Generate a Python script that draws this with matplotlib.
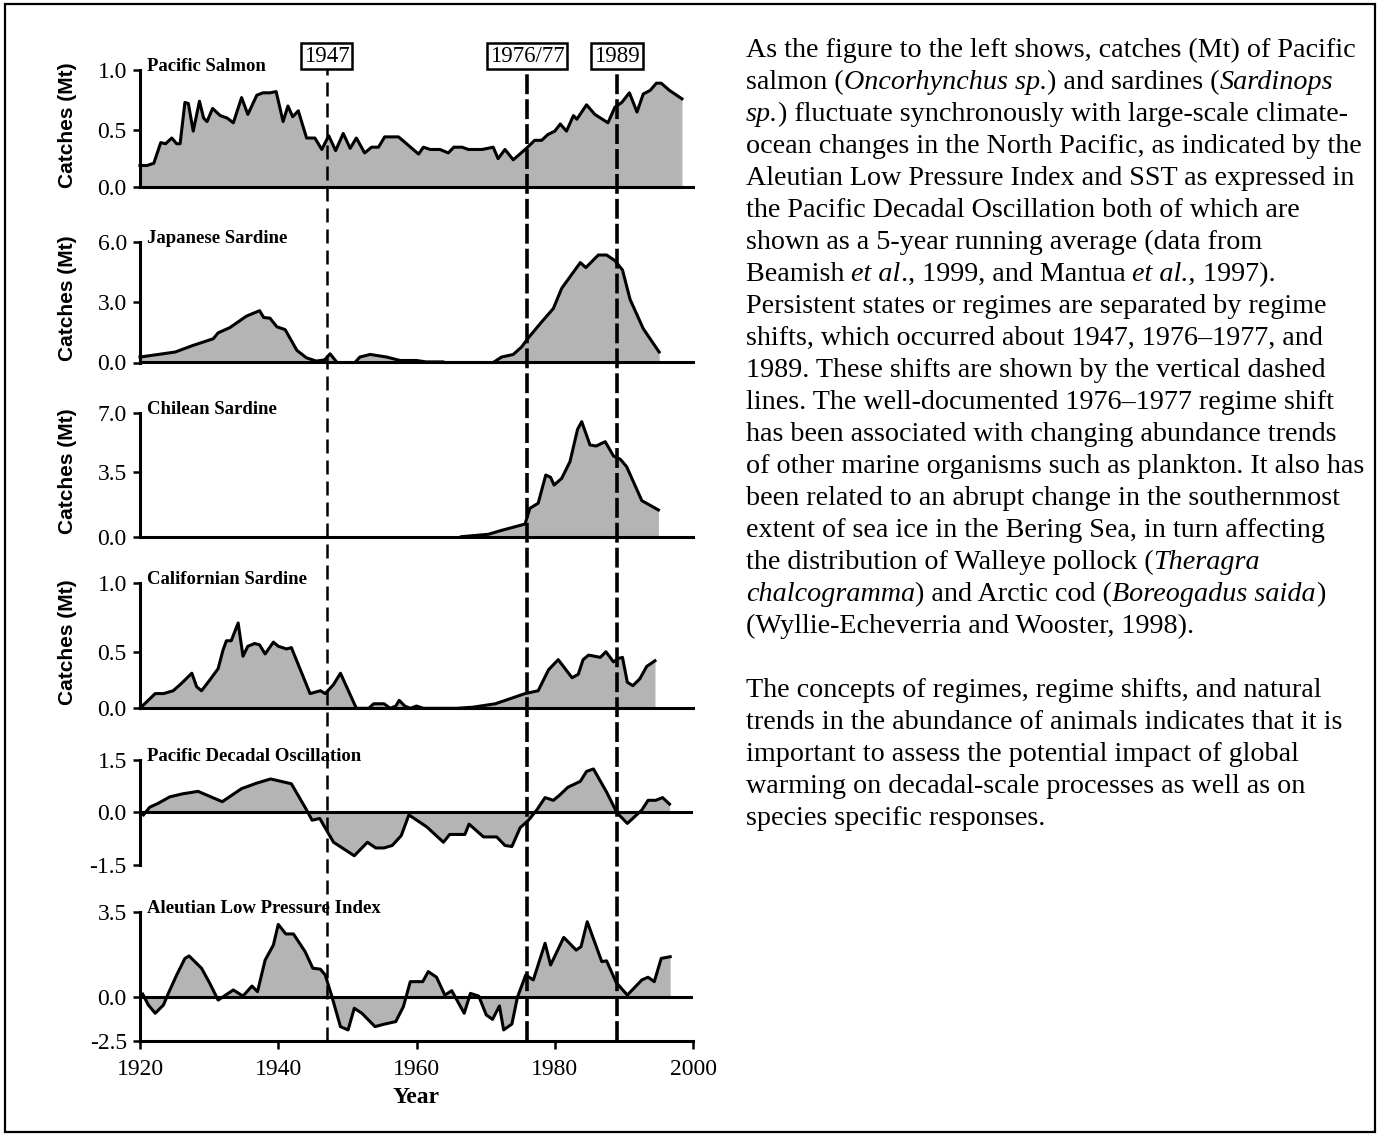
import numpy as np
import matplotlib
matplotlib.use("Agg")
import matplotlib.pyplot as plt
from matplotlib.font_manager import FontProperties
from matplotlib.patches import Rectangle
from matplotlib.transforms import offset_copy

W, H, DPI = 1379, 1135, 100
plt.rcParams['font.family'] = ['Liberation Serif', 'DejaVu Serif']

# ---------------- data ----------------
salmon_year = [1920, 1921, 1922, 1923, 1923.7, 1924.6, 1925.3, 1925.8, 1926.5, 1927,
               1927.7, 1928.6, 1929.2, 1929.7, 1930.5, 1931.6, 1932.6, 1933.5, 1934.7, 1935.6,
               1936.9, 1937.8, 1938.8, 1939.7, 1940.7, 1941.4, 1942.1, 1942.9, 1944.1, 1945.3,
               1946.3, 1947.3, 1948.3, 1949.4, 1950.4, 1951.3, 1952.5, 1953.5, 1954.5, 1955.4,
               1957.4, 1960.3, 1961.0, 1962.0, 1963.4, 1964.6, 1965.4, 1966.6, 1967.5, 1969.5,
               1971.1, 1971.8, 1972.8, 1974.0, 1975.9, 1977.1, 1978.1, 1979.0, 1980.0, 1980.8,
               1981.7, 1982.7, 1983.2, 1984.6, 1985.8, 1987.7, 1988.7, 1989.7, 1990.8, 1991.9,
               1992.8, 1993.8, 1994.7, 1995.4, 1996.6, 1998.4]
salmon_catch = [0.19, 0.19, 0.21, 0.39, 0.38, 0.43, 0.38, 0.38, 0.73, 0.72,
                0.49, 0.74, 0.60, 0.57, 0.68, 0.62, 0.60, 0.56, 0.77, 0.63,
                0.79, 0.81, 0.81, 0.82, 0.57, 0.70, 0.61, 0.66, 0.43, 0.43,
                0.33, 0.45, 0.32, 0.47, 0.34, 0.43, 0.30, 0.35, 0.35, 0.44,
                0.44, 0.29, 0.35, 0.33, 0.33, 0.30, 0.35, 0.35, 0.33, 0.33,
                0.35, 0.25, 0.33, 0.24, 0.34, 0.41, 0.41, 0.46, 0.49, 0.55,
                0.49, 0.62, 0.59, 0.71, 0.63, 0.56, 0.69, 0.73, 0.81, 0.65,
                0.80, 0.83, 0.89, 0.89, 0.83, 0.76]

japan_year = [1920, 1925.1, 1927.7, 1930.6, 1931.3, 1933.0, 1935.4, 1937.3, 1937.9, 1938.8,
              1939.8, 1941.0, 1942.7, 1944.1, 1945.5, 1946.7, 1947.5, 1948.5, 1951.1, 1951.8,
              1953.3, 1955.7, 1957.6, 1960.0, 1961.4, 1963.9, 1964.0, 1971.1, 1972.3, 1974.0,
              1975.2, 1976.2, 1977.9, 1979.8, 1981.0, 1982.5, 1983.7, 1984.5, 1986.3, 1987.5,
              1988.7, 1989.8, 1990.9, 1992.8, 1995.1]
japan_catch = [0.27, 0.52, 0.85, 1.18, 1.47, 1.73, 2.30, 2.57, 2.23, 2.20,
               1.77, 1.63, 0.60, 0.23, 0.07, 0.13, 0.43, 0.0, 0.0, 0.27,
               0.40, 0.27, 0.10, 0.10, 0.03, 0.03, 0.0, 0.0, 0.27, 0.40,
               0.77, 1.23, 1.93, 2.68, 3.68, 4.40, 4.97, 4.72, 5.35, 5.35,
               5.07, 4.60, 3.13, 1.68, 0.52]

chile_year = [1966.5, 1970.4, 1972.1, 1975.7, 1976.4, 1977.6, 1978.7, 1979.4, 1979.9, 1981.0,
              1982.2, 1983.3, 1983.9, 1985.1, 1986.0, 1987.3, 1988.5, 1989.5, 1990.4, 1992.6,
              1995.0]
chile_catch = [0.0, 0.13, 0.32, 0.68, 1.53, 1.80, 3.32, 3.20, 2.78, 3.14,
               4.10, 6.04, 6.50, 5.10, 5.04, 5.30, 4.44, 4.24, 3.80, 1.94,
               1.44]

calif_year = [1920, 1922.2, 1923.4, 1924.8, 1926.0, 1927.5, 1928.2, 1928.9, 1930.1, 1931.3,
              1932.0, 1932.5, 1933.2, 1934.2, 1934.9, 1935.6, 1936.6, 1937.3, 1938.1, 1939.3,
              1940.0, 1941.2, 1941.9, 1944.6, 1946.1, 1946.8, 1948.0, 1949.0, 1951.3, 1953.1,
              1953.8, 1955.3, 1956.2, 1957.0, 1957.5, 1958.3, 1959.1, 1960.0, 1961.0, 1965.8,
              1968.2, 1971.4, 1973.8, 1975.7, 1977.6, 1979.1, 1980.5, 1982.5, 1983.4, 1984.1,
              1984.9, 1986.6, 1987.4, 1988.5, 1989.2, 1989.8, 1990.5, 1991.3, 1992.3, 1993.3,
              1994.5]
calif_catch = [0.0, 0.13, 0.13, 0.155, 0.22, 0.31, 0.19, 0.155, 0.25, 0.35,
               0.51, 0.58, 0.58, 0.71, 0.46, 0.54, 0.56, 0.55, 0.48, 0.57,
               0.54, 0.52, 0.53, 0.13, 0.155, 0.13, 0.21, 0.31, 0.0, 0.0,
               0.04, 0.04, 0.0, 0.02, 0.07, 0.02, 0.0, 0.02, 0.0, 0.0,
               0.01, 0.04, 0.09, 0.13, 0.155, 0.34, 0.43, 0.27, 0.30, 0.43,
               0.47, 0.45, 0.50, 0.41, 0.44, 0.45, 0.23, 0.20, 0.26, 0.37,
               0.42]

pdo_year = [1920.5, 1921.4, 1922.6, 1924.3, 1926.2, 1928.4, 1931.9, 1934.7, 1936.9, 1938.9,
            1941.9, 1944.1, 1944.9, 1946.0, 1948.0, 1951.0, 1952.9, 1954.1, 1955.3, 1956.5,
            1957.8, 1958.9, 1961.5, 1963.9, 1964.8, 1967.0, 1967.6, 1969.7, 1971.6, 1972.8,
            1973.8, 1975.0, 1976.2, 1977.4, 1978.6, 1979.8, 1980.7, 1981.9, 1983.7, 1984.6,
            1985.6, 1987.5, 1989.0, 1990.5, 1992.6, 1993.5, 1994.6, 1995.6, 1996.6]
pdo_index = [-0.09, 0.13, 0.24, 0.43, 0.52, 0.59, 0.29, 0.67, 0.83, 0.95,
             0.81, 0.05, -0.24, -0.19, -0.86, -1.24, -0.86, -1.02, -1.02, -0.95,
             -0.67, -0.09, -0.43, -0.86, -0.64, -0.64, -0.35, -0.71, -0.71, -0.95,
             -0.98, -0.45, -0.24, 0.05, 0.41, 0.33, 0.48, 0.71, 0.88, 1.17,
             1.24, 0.57, -0.03, -0.33, 0.05, 0.33, 0.33, 0.41, 0.22]

alpi_year = [1920.4, 1921.2, 1922.2, 1923.4, 1924.1, 1925.3, 1926.5, 1927.1, 1928.9, 1930.1,
             1931.3, 1933.5, 1934.9, 1936.2, 1937.0, 1938.1, 1939.3, 1940.0, 1941.1, 1942.2,
             1943.9, 1945.0, 1946.1, 1946.8, 1947.7, 1949.0, 1950.1, 1951.0, 1952.1, 1954.0,
             1955.2, 1957.0, 1958.1, 1959.1, 1960.9, 1961.7, 1962.9, 1964.1, 1965.1, 1966.9,
             1967.8, 1969.0, 1970.1, 1971.0, 1972.0, 1972.6, 1973.8, 1974.6, 1975.8, 1976.9,
             1978.6, 1979.4, 1981.3, 1983.1, 1983.8, 1984.7, 1986.8, 1987.5, 1988.9, 1990.5,
             1992.6, 1993.5, 1994.4, 1995.4, 1996.7]
alpi_index = [0.13, -0.44, -0.92, -0.44, 0.16, 0.91, 1.59, 1.69, 1.19, 0.57,
              -0.16, 0.30, 0.05, 0.46, 0.23, 1.52, 2.14, 2.98, 2.59, 2.59,
              1.86, 1.19, 1.15, 0.91, 0.09, -1.69, -1.88, -0.63, -0.92, -1.69,
              -1.56, -1.40, -0.54, 0.64, 0.64, 1.05, 0.82, 0.09, 0.27, -0.92,
              0.16, 0.05, -1.02, -1.27, -0.50, -1.88, -1.54, 0.0, 0.91, 0.71,
              2.21, 1.32, 2.45, 1.93, 2.07, 3.09, 1.46, 1.49, 0.60, 0.09,
              0.71, 0.82, 0.64, 1.59, 1.66]

panel_titles = ['Pacific Salmon', 'Japanese Sardine', 'Chilean Sardine',
                'Californian Sardine', 'Pacific Decadal Oscillation',
                'Aleutian Low Pressure Index']
tick_values = [[0.0, 0.5, 1.0], [0.0, 3.0, 6.0], [0.0, 3.5, 7.0],
               [0.0, 0.5, 1.0], [-1.5, 0.0, 1.5], [-2.5, 0.0, 3.5]]
tick_labels = [['0.0', '0.5', '1.0'], ['0.0', '3.0', '6.0'], ['0.0', '3.5', '7.0'],
               ['0.0', '0.5', '1.0'], ['-1.5', '0.0', '1.5'], ['-2.5', '0.0', '3.5']]
x_ticks = [1920, 1940, 1960, 1980, 2000]
regime_years = [1947, 1976, 1989]
regime_labels = ['1947', '1976/77', '1989']

paragraph = [
    "As the figure to the left shows, catches (Mt) of Pacific",
    "salmon (*Oncorhynchus sp.*) and sardines (*Sardinops*",
    "*sp.*) fluctuate synchronously with large-scale climate-",
    "ocean changes in the North Pacific, as indicated by the",
    "Aleutian Low Pressure Index and SST as expressed in",
    "the Pacific Decadal Oscillation both of which are",
    "shown as a 5-year running average (data from",
    "Beamish *et al*., 1999, and Mantua *et al.,* 1997).",
    "Persistent states or regimes are separated by regime",
    "shifts, which occurred about 1947, 1976\u20131977, and",
    "1989. These shifts are shown by the vertical dashed",
    "lines. The well-documented 1976\u20131977 regime shift",
    "has been associated with changing abundance trends",
    "of other marine organisms such as plankton. It also has",
    "been related to an abrupt change in the southernmost",
    "extent of sea ice in the Bering Sea, in turn affecting",
    "the distribution of Walleye pollock (*Theragra*",
    "*chalcogramma*) and Arctic cod (*Boreogadus saida*)",
    "(Wyllie-Echeverria and Wooster, 1998).",
    "",
    "The concepts of regimes, regime shifts, and natural",
    "trends in the abundance of animals indicates that it is",
    "important to assess the potential impact of global",
    "warming on decadal-scale processes as well as on",
    "species specific responses.",
]

series = [(salmon_year, salmon_catch), (japan_year, japan_catch),
          (chile_year, chile_catch), (calif_year, calif_catch),
          (pdo_year, pdo_index), (alpi_year, alpi_index)]

# ---------------- layout (pixels of the reference) ----------------
X0, X1 = 140, 693
tick_rows = [[187.3, 130, 70], [362.5, 302, 242], [536.7, 471.7, 413.3],
             [708.3, 651.7, 583.3], [865, 811.7, 760], [1040.7, 997.3, 911.7]]
FILL = '#b4b4b4'
LW = 2.2


def px_rect(x0, y_top, x1, y_bot):
    return [x0 / W, 1 - y_bot / H, (x1 - x0) / W, (y_bot - y_top) / H]


def make_scale(vals, rows):
    # piecewise-linear axis so the ticks sit where the original put them
    v = np.asarray(vals, float)
    p = -np.asarray(rows, float)
    return (lambda y: np.interp(y, v, p)), (lambda q: np.interp(q, p, v))


fig = plt.figure(figsize=(W / DPI, H / DPI), dpi=DPI)

for i, ((xs, ys), title) in enumerate(zip(series, panel_titles)):
    rows = tick_rows[i]
    ax = fig.add_axes(px_rect(X0, rows[-1], X1, rows[0]))
    ax.set_yscale('function', functions=make_scale(tick_values[i], rows))
    ax.set_xlim(1920, 2000)
    ax.set_ylim(tick_values[i][0], tick_values[i][-1])
    ax.patch.set_alpha(0)

    ax.fill_between(xs, ys, 0, color=FILL, lw=0, zorder=1)
    if tick_values[i][0] < 0:
        ax.axhline(0, color='black', lw=LW, zorder=2.5)
    ax.plot(xs, ys, color='black', lw=LW, zorder=3, clip_on=False)

    for side in ['top', 'right']:
        ax.spines[side].set_visible(False)
    ax.spines['left'].set_linewidth(LW)
    ax.spines['bottom'].set_linewidth(LW)
    if i == 4:
        ax.spines['bottom'].set_visible(False)

    ax.set_yticks(tick_values[i])
    ax.set_yticklabels(tick_labels[i])
    ax.yaxis.set_minor_locator(matplotlib.ticker.NullLocator())
    ax.tick_params(axis='y', direction='out', length=5, width=1.8,
                   labelsize=17, pad=4.5)

    if i == len(series) - 1:
        ax.set_xticks(x_ticks)
        ax.tick_params(axis='x', direction='out', length=5.5, width=1.8,
                       labelsize=17, pad=8)
        ax.set_xlabel('Year', fontsize=17, fontweight='bold', labelpad=5)
    else:
        ax.tick_params(axis='x', bottom=False, labelbottom=False)

    tr = offset_copy(ax.transAxes, fig=fig, x=7, y=-1, units='dots')
    ax.text(0, 1, title, transform=tr, ha='left', va='baseline',
            fontsize=13.5, fontweight='bold')
    if i < 4:
        ax.text((67 - X0) / (X1 - X0), 0.53, 'Catches (Mt)', transform=ax.transAxes,
                rotation=90, ha='center', va='center', fontsize=15,
                fontweight='bold', family='Liberation Sans')

# regime shift lines
ov = fig.add_axes(px_rect(X0, 45, X1, 1041))
ov.set_xlim(1920, 2000)
ov.set_ylim(0, 1)
ov.axis('off')
line_top = (1041 - 67) / (1041 - 45)
label_y = (1041 - 56) / (1041 - 45)
for k, (yr, lab) in enumerate(zip(regime_years, regime_labels)):
    if k == 0:
        ov.axvline(yr, ymin=0, ymax=line_top, color='black', lw=1.8,
                   linestyle=(0, (5.6, 2.8)))
    else:
        ov.axvline(yr, ymin=0, ymax=line_top, color='black', lw=2.6,
                   linestyle=(0, (5.5, 1.4)))
    ov.text(yr, label_y, lab, ha='center', va='center', fontsize=16.5,
            bbox=dict(boxstyle='square,pad=0.12', fc='white', ec='black', lw=1.8))

# outer frame
fig.add_artist(Rectangle((5 / W, 1 - 1132 / H), 1370 / W, 1128 / H,
                         transform=fig.transFigure, fill=False, ec='black', lw=1.6))

# paragraph on the right, with italic runs marked by *
renderer = fig.canvas.get_renderer()


def text_width(s, fp):
    wb = renderer.get_text_width_height_descent('|', fp, ismath=False)[0]
    ws = renderer.get_text_width_height_descent(s + '|', fp, ismath=False)[0]
    return ws - wb


fp_test = FontProperties(family='Liberation Serif', size=18)
body_size = 18 * 612 / text_width(paragraph[0], fp_test)
fp_reg = FontProperties(family='Liberation Serif', size=body_size)
fp_ital = FontProperties(family='Liberation Serif', style='italic', size=body_size)

TX, TY, LSTEP = 746, 57, 32.0
for n, line in enumerate(paragraph):
    x = TX
    y = TY + n * LSTEP
    for j, seg in enumerate(line.split('*')):
        if not seg:
            continue
        fp = fp_ital if j % 2 else fp_reg
        fig.text(x / W, 1 - y / H, seg, fontproperties=fp, ha='left', va='baseline')
        x += text_width(seg, fp)

fig.savefig('out.png', dpi=DPI)
